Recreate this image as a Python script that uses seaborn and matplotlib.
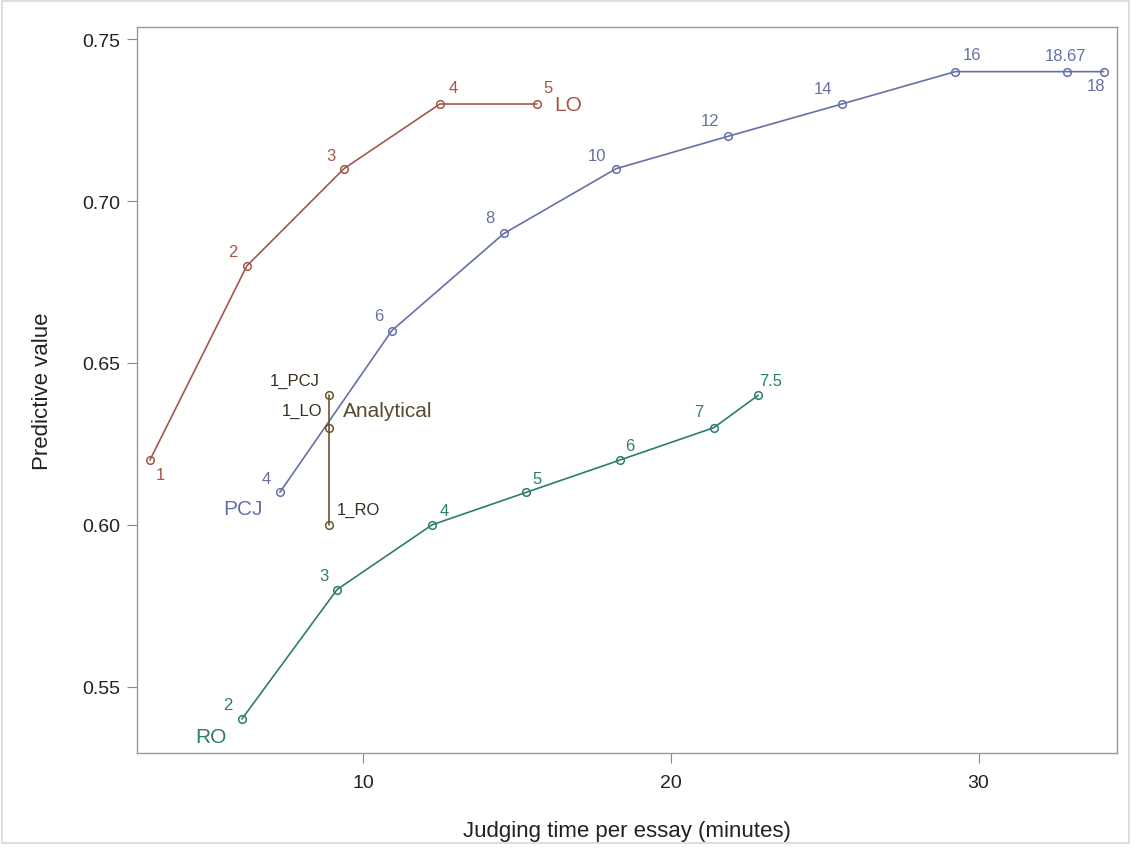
import matplotlib
matplotlib.use("Agg")
import matplotlib.pyplot as plt
import seaborn as sns
import pandas as pd

# ---- data ----
lo_x = [3.08, 6.23, 9.38, 12.5, 15.65]
lo_y = [0.62, 0.68, 0.71, 0.73, 0.73]
lo_lab = ["1", "2", "3", "4", "5"]

pcj_x = [7.30, 10.94, 14.58, 18.22, 21.85, 25.56, 29.24, 32.87, 34.07]
pcj_y = [0.61, 0.66, 0.69, 0.71, 0.72, 0.73, 0.74, 0.74, 0.74]
pcj_lab = ["4", "6", "8", "10", "12", "14", "16", "18.67", "18"]

ro_x = [6.07, 9.16, 12.25, 15.30, 18.35, 21.40, 22.84]
ro_y = [0.54, 0.58, 0.60, 0.61, 0.62, 0.63, 0.64]
ro_lab = ["2", "3", "4", "5", "6", "7", "7.5"]

ana_x = [8.9, 8.9, 8.9]
ana_y = [0.64, 0.63, 0.60]
ana_lab = ["1_PCJ", "1_LO", "1_RO"]

series_names = ["LO", "PCJ", "RO", "Analytical"]
colors = {"LO": "#A5564B", "PCJ": "#6670A8", "RO": "#2B7D6D", "Analytical": "#6B5530"}

sns.set_theme(style="white")
plt.rcParams["font.family"] = ["Liberation Sans", "DejaVu Sans"]

fig = plt.figure(figsize=(11.36, 8.53), dpi=100)
ax = fig.add_axes([0.1206, 0.1161, 0.8627, 0.8511])

frames = []
for name, xs, ys in [("LO", lo_x, lo_y), ("PCJ", pcj_x, pcj_y),
                     ("RO", ro_x, ro_y), ("Analytical", ana_x, ana_y)]:
    frames.append(pd.DataFrame({"series": name, "x": xs, "y": ys}))
df = pd.concat(frames, ignore_index=True)

for name in series_names:
    sub = df[df.series == name]
    sns.lineplot(data=sub, x="x", y="y", ax=ax, sort=False, estimator=None,
                 color=colors[name], lw=1.2, marker="o", markersize=5.5,
                 markerfacecolor="none", markeredgecolor=colors[name],
                 markeredgewidth=1.1, legend=False)

def put(x, y, text, dx, dy, color, ha="center", va="center", size=12):
    ax.annotate(text, (x, y), xytext=(dx, dy), textcoords="offset pixels",
                ha=ha, va=va, color=color, fontsize=size)

# LO labels
lo_off = [(10, -14), (-14, 14), (-13, 13), (13, 17), (11, 17)]
for x, y, t, (dx, dy) in zip(lo_x, lo_y, lo_lab, lo_off):
    put(x, y, t, dx, dy, colors["LO"])
put(lo_x[-1], lo_y[-1], "LO", 17, 0, colors["LO"], ha="left", size=15)

# PCJ labels
pcj_off = [(-14, 14), (-13, 15), (-14, 16), (-19, 13), (-18, 16), (-19, 16),
           (17, 17), (-1, 16), (-8, -14)]
for x, y, t, (dx, dy) in zip(pcj_x, pcj_y, pcj_lab, pcj_off):
    put(x, y, t, dx, dy, colors["PCJ"])
put(pcj_x[0], pcj_y[0], "PCJ", -17, -16, colors["PCJ"], ha="right", size=15)

# RO labels
ro_off = [(-14, 14), (-13, 14), (12, 14), (11, 14), (10, 15), (-15, 16), (12, 15)]
for x, y, t, (dx, dy) in zip(ro_x, ro_y, ro_lab, ro_off):
    put(x, y, t, dx, dy, colors["RO"])
put(ro_x[0], ro_y[0], "RO", -15, -18, colors["RO"], ha="right", size=15)

# Analytical labels
ana_col = "#3A2E1E"
put(ana_x[0], ana_y[0], ana_lab[0], -9, 15, ana_col, ha="right", size=12)
put(ana_x[1], ana_y[1], ana_lab[1], -7, 17, ana_col, ha="right", size=12)
put(ana_x[2], ana_y[2], ana_lab[2], 8, 15, ana_col, ha="left", size=12)
put(ana_x[1], ana_y[1], "Analytical", 14, 17, "#5A4A30", ha="left", size=15)

ax.set_xlim(2.66, 34.5)
ax.set_ylim(0.5295, 0.7538)
ax.set_xticks([10, 20, 30])
ax.set_yticks([0.55, 0.60, 0.65, 0.70, 0.75])
ax.set_yticklabels(["0.55", "0.60", "0.65", "0.70", "0.75"])

lab_kw = dict(fontsize=16, color="#222222")
ax.set_xlabel("Judging time per essay (minutes)", labelpad=21, **lab_kw)
ax.set_ylabel("Predictive value", labelpad=21, **lab_kw)
ax.tick_params(axis="x", which="major", direction="out", length=7, width=0.8,
               color="#888888", labelsize=14, labelcolor="#222222", bottom=True, pad=8)
ax.tick_params(axis="y", which="major", direction="out", length=7, width=0.8,
               color="#888888", labelsize=14, labelcolor="#222222", left=True, pad=5)
for s in ax.spines.values():
    s.set_color("#999999")
    s.set_linewidth(1.0)

# outer light frame
fig.patches.append(plt.Rectangle((0.002, 0.01), 0.992, 0.988, transform=fig.transFigure,
                                 fill=False, edgecolor="#d8d8d8", lw=1.2))

fig.savefig("out.png", dpi=100)
